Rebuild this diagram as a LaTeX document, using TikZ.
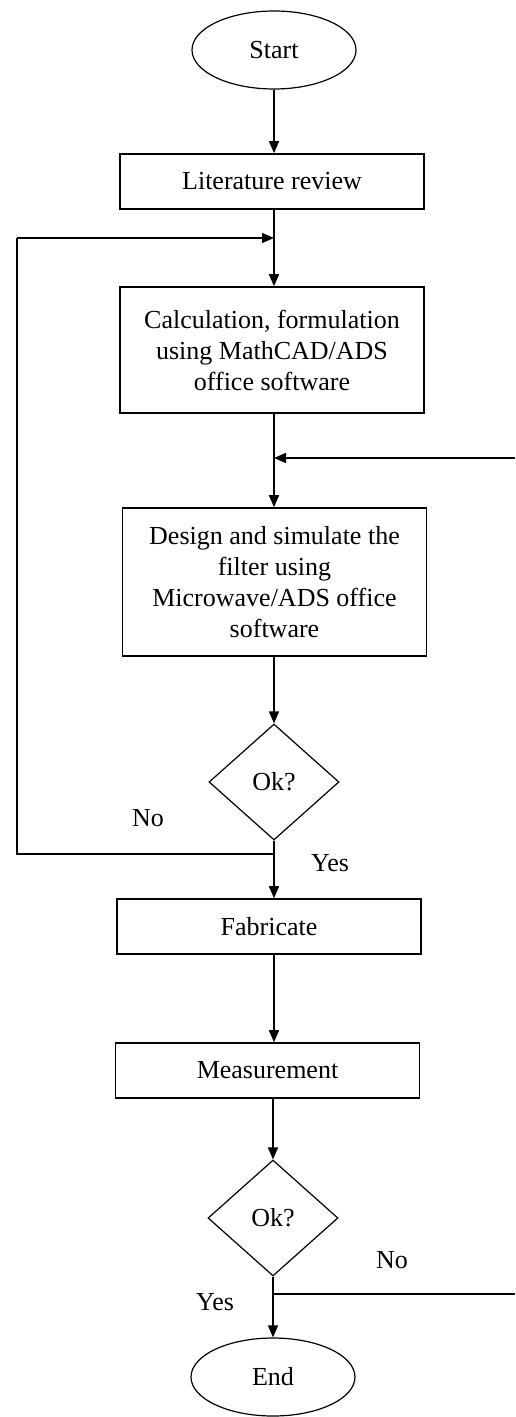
\documentclass[tikz,border=0pt]{standalone}
\usepackage{fontspec}
\setmainfont{Liberation Serif}
\usetikzlibrary{shapes.geometric,arrows.meta}

\begin{document}
\begin{tikzpicture}[x=0.5pt,y=-0.5pt,
	every node/.style={font=\fontsize{13}{15.5}\selectfont},
	procbox/.style={draw, line width=0.8pt, rectangle, align=center, inner sep=2pt, minimum width=152pt},
	termnode/.style={draw, line width=0.6pt, ellipse, minimum width=82pt, minimum height=39pt, inner sep=0pt},
	decnode/.style={draw, line width=0.6pt, diamond, minimum width=65pt, minimum height=58pt, inner sep=0pt},
	flow/.style={line width=0.8pt, -{Triangle[length=6pt,width=5pt]}},
	plain/.style={line width=0.8pt}]
	\useasboundingbox (0,0) rectangle (515,1417);
	\node[termnode] (start) at (274,50) {Start};
	\node[procbox, minimum height=27.5pt] (lit) at (272,181.5) {Literature review};
	\node[procbox, minimum height=63pt] (calc) at (272,350) {Calculation, formulation\\using MathCAD/ADS\\office software};
	\node[procbox, minimum height=74pt] (design) at (274.5,582) {Design and simulate the\\filter using\\Microwave/ADS office\\software};
	\node[decnode] (okA) at (274,782) {Ok?};
	\node[procbox, minimum height=27.5pt] (fab) at (269,926.5) {Fabricate};
	\node[procbox, minimum height=27.5pt] (meas) at (267.5,1070.5) {Measurement};
	\node[decnode] (okB) at (273,1218) {Ok?};
	\node[termnode] (end) at (273,1377) {End};
	% branch and loop points
	\coordinate (joinA) at (274,238); \coordinate (joinB) at (274,458);
	\coordinate (splitA) at (274,854); \coordinate (splitB) at (273,1294);
	\coordinate (leftA) at (17,854); \coordinate (leftB) at (17,238);
	\coordinate (rightA) at (515,458); \coordinate (rightB) at (515,1294);
	% main flow
	\draw[flow] (start) -- (start.south |- lit.north);
	\draw[flow] (lit.south -| start) -- (calc.north -| start);
	\draw[flow] (calc.south -| okA) -- (design.north -| okA);
	\draw[flow] (design.south -| okA) -- (okA);
	\draw[flow] (okA) -- (okA.south |- fab.north);
	\draw[flow] (fab.south -| okA) -- (meas.north -| okA);
	\draw[flow] (meas.south -| okB) -- (okB);
	\draw[flow] (okB) -- (end);
	% loops
	\draw[plain] (splitA) -- (leftA) -- (leftB);
	\draw[flow] (leftB) -- (joinA);
	\draw[flow] (rightA) -- (joinB);
	\draw[plain] (splitB) -- (rightB);
	\node (noA) at (148,818) {No};
	\node (yesA) at (330,863) {Yes};
	\node (noB) at (392,1260) {No};
	\node (yesB) at (215,1302) {Yes};
\end{tikzpicture}
\end{document}
